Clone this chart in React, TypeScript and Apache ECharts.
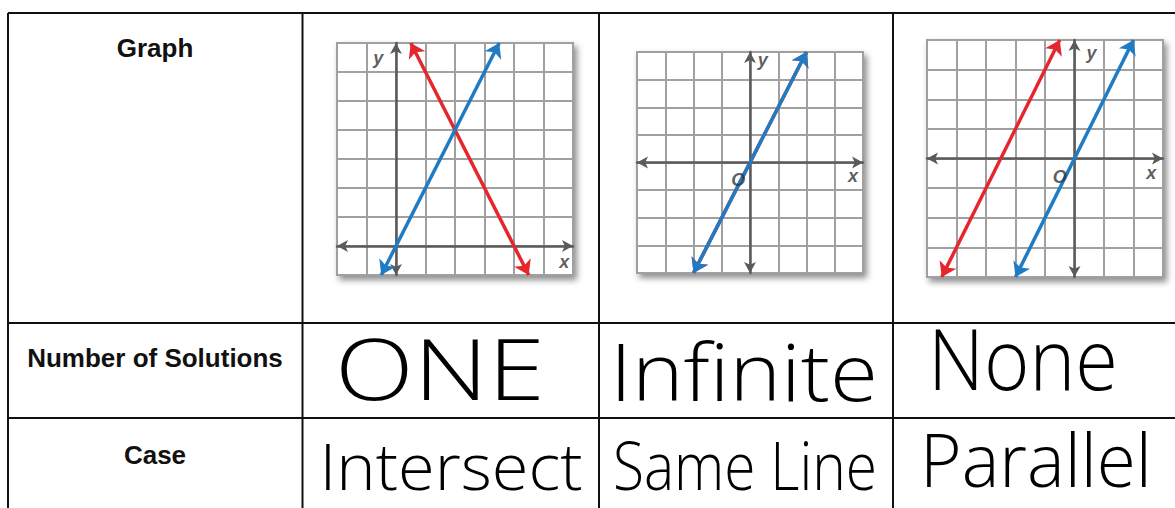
import React, { useEffect, useRef } from "react";
import * as echarts from "echarts";

// ---- data ----
const rowHeaders = ["Graph", "Number of Solutions", "Case"];
const solutions = ["ONE", "Infinite", "None"];
const cases = ["Intersect", "Same Line", "Parallel"];
const xRanges = [[-2, 6], [-4, 4], [-5, 3]];
const yRanges = [[-1, 7], [-4, 4], [-4, 4]];
const redLines = [
  [[0.5, 7], [4.5, -1]],
  [[-2, -4], [2, 4]],
  [[-4.5, -4], [-0.5, 4]],
];
const blueLines = [
  [[-0.5, -1], [3.5, 7]],
  [[-2, -4], [2, 4]],
  [[-2, -4], [2, 4]],
];
const axisLetters = [["y", "x"], ["y", "x", "O"], ["y", "x", "O"]];
const letterPoints = [
  [[-0.6, 6.5], [5.7, -0.55]],
  [[0.45, 3.7], [3.65, -0.5], [-0.42, -0.62]],
  [[0.58, 3.55], [2.6, -0.5], [-0.5, -0.62]],
];

// ---- layout ----
const W = 1175;
const H = 508;
const grids = [
  { left: 337, top: 43, width: 236, height: 232 },
  { left: 637, top: 52, width: 226, height: 221 },
  { left: 927, top: 40, width: 236, height: 237 },
];
const headerY = [48, 358, 455];
const handBoxes = [
  // [cx, cy, fontSize, width]
  [440, 367.5, 85, 210],
  [744, 370, 80, 268],
  [1023, 358, 84, 190],
  [451, 465, 64, 263],
  [745, 464, 66, 264],
  [1036, 458, 74, 232],
];
const HAND_FONT = "'Open Sans', 'Noto Sans', sans-serif";
const HAND_WEIGHT = 300;
const RED = "#e5262d";
const BLUE = "#1f7cc4";

function measure(text: string, font: string) {
  const c = document.createElement("canvas");
  const ctx = c.getContext("2d")!;
  ctx.font = font;
  return ctx.measureText(text).width;
}

export default function App() {
  const ref = useRef<HTMLDivElement>(null);
  useEffect(() => {
    document.body.style.margin = "0";
    const chart = echarts.init(ref.current!, undefined, { renderer: "svg" });

    const xAxis: any[] = [];
    const yAxis: any[] = [];
    const series: any[] = [];
    const gridOpts: any[] = [];
    grids.forEach((g, i) => {
      gridOpts.push({
        ...g,
        show: true,
        backgroundColor: "#ffffff",
        borderColor: "#9c9c9c",
        borderWidth: 2,
        shadowColor: "rgba(0,0,0,0.45)",
        shadowBlur: 6,
        shadowOffsetX: 3,
        shadowOffsetY: 4,
      });
      const axisCommon = {
        type: "value",
        interval: 1,
        axisTick: { show: false },
        axisLabel: { show: false },
        splitLine: { show: true, lineStyle: { color: "#a0a0a0", width: 2 } },
        axisLine: {
          show: true,
          onZero: true,
          symbol: ["arrow", "arrow"],
          symbolSize: [9, 11],
          lineStyle: { color: "#5a5a5a", width: 2.5 },
        },
      };
      xAxis.push({ ...axisCommon, gridIndex: i, min: xRanges[i][0], max: xRanges[i][1] });
      yAxis.push({ ...axisCommon, gridIndex: i, min: yRanges[i][0], max: yRanges[i][1] });
      const lineSeries = (coords: number[][], color: string, name: string) => ({
        type: "lines",
        name,
        coordinateSystem: "cartesian2d",
        xAxisIndex: i,
        yAxisIndex: i,
        symbol: ["arrow", "arrow"],
        symbolSize: 14,
        lineStyle: { color, width: 3.5, opacity: 1 },
        itemStyle: { color },
        data: [{ coords }],
        z: 5,
      });
      series.push(lineSeries(redLines[i], RED, "red" + i));
      series.push(lineSeries(blueLines[i], BLUE, "blue" + i));
      series.push({
        type: "scatter",
        xAxisIndex: i,
        yAxisIndex: i,
        symbolSize: 1,
        itemStyle: { color: "rgba(0,0,0,0)" },
        z: 6,
        label: {
          show: true,
          position: "inside",
          formatter: (p: any) => axisLetters[i][p.dataIndex],
          fontFamily: "'Liberation Sans', Arial, sans-serif",
          fontStyle: "italic",
          fontWeight: "bold",
          fontSize: 18,
          color: "#333",
        },
        data: letterPoints[i],
      });
    });

    const graphic: any[] = [];
    const lineStyle = { stroke: "#111", lineWidth: 2 };
    graphic.push({ type: "line", shape: { x1: 8, y1: 13, x2: W, y2: 13 }, style: lineStyle });
    [323, 418].forEach((y) =>
      graphic.push({ type: "line", shape: { x1: 8, y1: y, x2: W, y2: y }, style: lineStyle })
    );
    [8, 302.5, 599, 893].forEach((x) =>
      graphic.push({ type: "line", shape: { x1: x, y1: 13, x2: x, y2: H }, style: lineStyle })
    );
    rowHeaders.forEach((t, i) =>
      graphic.push({
        type: "text",
        x: 155,
        y: headerY[i],
        style: {
          text: t,
          fill: "#111",
          font: "bold 26px 'Liberation Sans', Arial, sans-serif",
          align: "center",
          verticalAlign: "middle",
        },
      })
    );
    const handTexts = [...solutions, ...cases];
    handTexts.forEach((t, i) => {
      const [cx, cy, fs, w] = handBoxes[i];
      const font = `${HAND_WEIGHT} ${fs}px ${HAND_FONT}`;
      const mw = measure(t, font);
      const sx = w / mw;
      graphic.push({
        type: "text",
        x: cx,
        y: cy,
        scaleX: sx,
        style: {
          text: t,
          fill: "#000",
          font,
          align: "center",
          verticalAlign: "middle",
        },
      });
    });

    chart.setOption({
      animation: false,
      backgroundColor: "#ffffff",
      grid: gridOpts,
      xAxis,
      yAxis,
      series,
      graphic,
    });
    return () => chart.dispose();
  }, []);
  return (
    <div
      ref={ref}
      style={{ position: "absolute", left: 0, top: 0, width: W, height: H }}
    />
  );
}
